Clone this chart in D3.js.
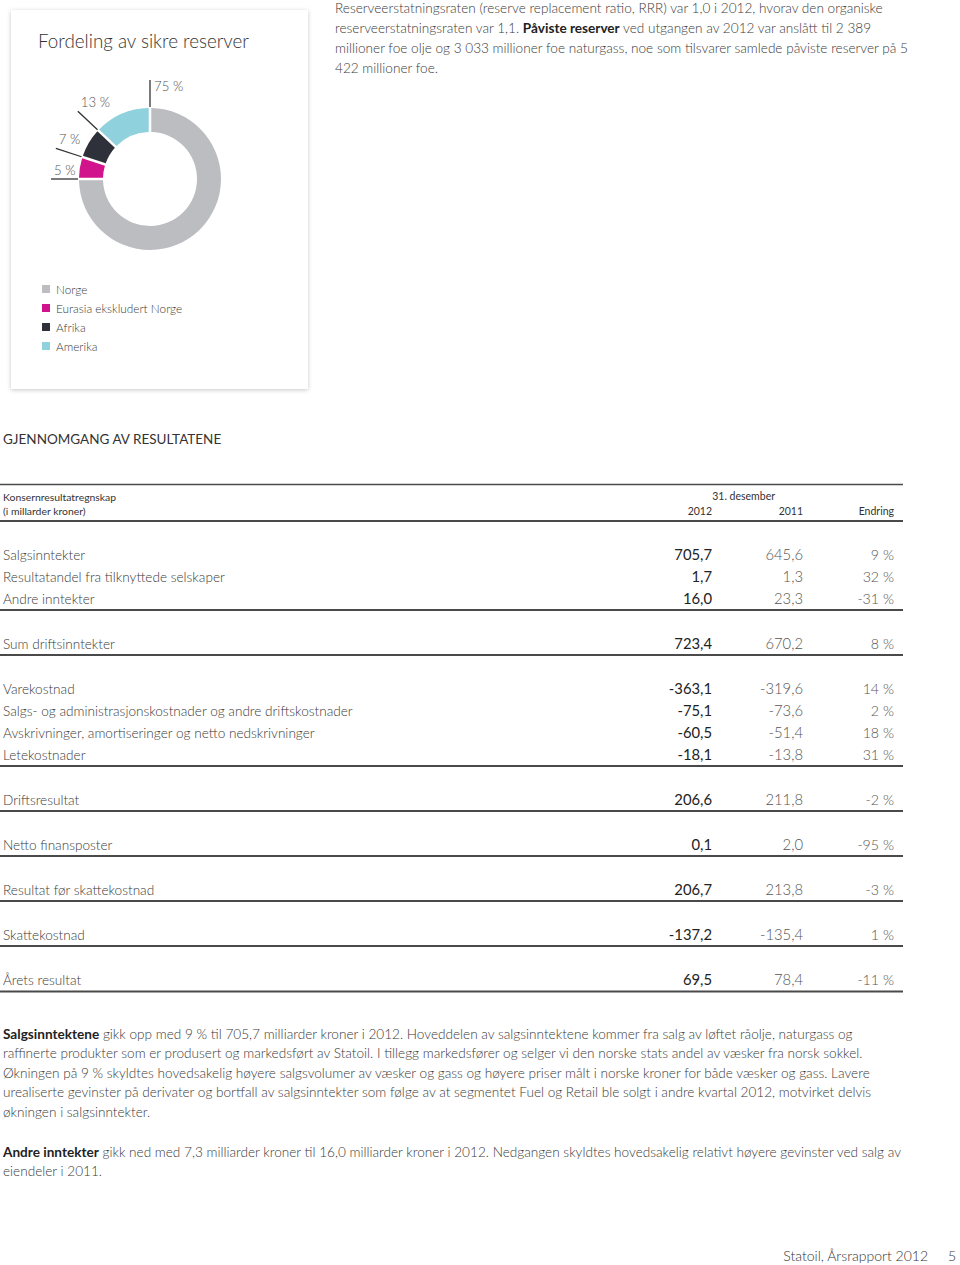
<!DOCTYPE html>
<html><head><meta charset="utf-8">
<script src="https://cdn.jsdelivr.net/npm/d3@7"></script>
<style>
html,body{margin:0;padding:0;background:#fff;}
svg{display:block;font-family:Lato,"Open Sans",sans-serif;}
</style></head><body>
<svg id="chart" width="960" height="1265"></svg>
<script>
// ---------- donut data ----------
const regions = ["Norge", "Eurasia ekskludert Norge", "Afrika", "Amerika"];
const shares = [75, 5, 7, 13];
const regionColors = ["#bcbdc1", "#d1148c", "#2e313a", "#8fd1dd"];
const donutTitle = "Fordeling av sikre reserver";

// ---------- table data ----------
const tableTitle = ["Konsernresultatregnskap", "(i millarder kroner)"];
const periodLabel = "31. desember";
const columnHeaders = ["2012", "2011", "Endring"];
const rowLabels = [
  "Salgsinntekter",
  "Resultatandel fra tilknyttede selskaper",
  "Andre inntekter",
  "Sum driftsinntekter",
  "Varekostnad",
  "Salgs- og administrasjonskostnader og andre driftskostnader",
  "Avskrivninger, amortiseringer og netto nedskrivninger",
  "Letekostnader",
  "Driftsresultat",
  "Netto finansposter",
  "Resultat før skattekostnad",
  "Skattekostnad",
  "Årets resultat"
];
const values2012 = [705.7, 1.7, 16.0, 723.4, -363.1, -75.1, -60.5, -18.1, 206.6, 0.1, 206.7, -137.2, 69.5];
const values2011 = [645.6, 1.3, 23.3, 670.2, -319.6, -73.6, -51.4, -13.8, 211.8, 2.0, 213.8, -135.4, 78.4];
const changes = [9, 32, -31, 8, 14, 2, 18, 31, -2, -95, -3, 1, -11];
const rowGroups = [0, 0, 0, 1, 2, 2, 2, 2, 3, 4, 5, 6, 7];

// ---------- text ----------
const sectionHeading = "GJENNOMGANG AV RESULTATENE";
const topParagraph = [
  [["Reserveerstatningsraten (reserve replacement ratio, RRR) var 1,0 i 2012, hvorav den organiske", false]],
  [["reserveerstatningsraten var 1,1. ", false], ["Påviste reserver", true], [" ved utgangen av 2012 var anslått til 2 389", false]],
  [["millioner foe olje og 3 033 millioner foe naturgass, noe som tilsvarer samlede påviste reserver på 5", false]],
  [["422 millioner foe.", false]]
];
const bottomParagraph1 = [
  [["Salgsinntektene", true], [" gikk opp med 9 % til 705,7 milliarder kroner i 2012. Hoveddelen av salgsinntektene kommer fra salg av løftet råolje, naturgass og", false]],
  [["raffinerte produkter som er produsert og markedsført av Statoil. I tillegg markedsfører og selger vi den norske stats andel av væsker fra norsk sokkel.", false]],
  [["Økningen på 9 % skyldtes hovedsakelig høyere salgsvolumer av væsker og gass og høyere priser målt i norske kroner for både væsker og gass. Lavere", false]],
  [["urealiserte gevinster på derivater og bortfall av salgsinntekter som følge av at segmentet Fuel og Retail ble solgt i andre kvartal 2012, motvirket delvis", false]],
  [["økningen i salgsinntekter.", false]]
];
const bottomParagraph2 = [
  [["Andre inntekter", true], [" gikk ned med 7,3 milliarder kroner til 16,0 milliarder kroner i 2012. Nedgangen skyldtes hovedsakelig relativt høyere gevinster ved salg av", false]],
  [["eiendeler i 2011.", false]]
];
const footerText = "Statoil, Årsrapport 2012";
const pageNumber = "5";

// =====================================================
const svg = d3.select("#chart");
const textColor = "#3a3a3a";

const defs = svg.append("defs");
const f = defs.append("filter").attr("id", "shadow").attr("x", "-10%").attr("y", "-10%").attr("width", "120%").attr("height", "120%");
f.append("feDropShadow").attr("dx", 0).attr("dy", 1).attr("stdDeviation", 2.2).attr("flood-color", "#000").attr("flood-opacity", 0.22);

// card
svg.append("rect").attr("x", 11).attr("y", 10).attr("width", 297).attr("height", 379)
  .attr("fill", "#fff").attr("filter", "url(#shadow)");

svg.append("text").attr("x", 38).attr("y", 47.5).attr("font-size", 18.8).attr("font-weight", 300)
  .attr("fill", "#333").text(donutTitle);

// donut
const cx = 150, cy = 179, rIn = 47, rOut = 71;
const pie = d3.pie().sort(null).value(d => d).startAngle(0).endAngle(2 * Math.PI);
const arcs = pie(shares);
const arc = d3.arc().innerRadius(rIn).outerRadius(rOut).padAngle(0.03);
const g = svg.append("g").attr("transform", `translate(${cx},${cy})`);
g.selectAll("path.slice").data(arcs).join("path").attr("class", "slice")
  .attr("d", arc).attr("fill", (d, i) => regionColors[i]);

const pt = (a, r) => [Math.sin(a) * r, -Math.cos(a) * r];
const leaderIn = 72, leaderOut = 99;
g.selectAll("line.leader").data(arcs).join("line").attr("class", "leader")
  .attr("x1", d => pt(d.startAngle, leaderIn)[0]).attr("y1", d => pt(d.startAngle, leaderIn)[1])
  .attr("x2", d => pt(d.startAngle, leaderOut)[0]).attr("y2", d => pt(d.startAngle, leaderOut)[1])
  .attr("stroke", "#333").attr("stroke-width", 1.3);
g.selectAll("text.pct").data(arcs).join("text").attr("class", "pct")
  .attr("x", d => { const p = pt(d.startAngle, leaderOut); return d.startAngle === 0 ? p[0] + 4 : p[0] + 3; })
  .attr("y", d => { const p = pt(d.startAngle, leaderOut); return d.startAngle === 0 ? p[1] + 10.5 : p[1] - 4.5; })
  .attr("font-size", 13.2).attr("font-weight", 300).attr("fill", "#555")
  .text(d => d.data + " %");

// legend
const legend = svg.append("g");
const legY = d3.scalePoint().domain(regions).range([289, 346]);
legend.selectAll("rect").data(regions).join("rect")
  .attr("x", 42).attr("y", d => legY(d) - 4).attr("width", 8).attr("height", 8)
  .attr("fill", (d, i) => regionColors[i]);
legend.selectAll("text").data(regions).join("text")
  .attr("x", 56).attr("y", d => legY(d) + 4.5).attr("font-size", 11.8).attr("font-weight", 300)
  .attr("fill", textColor).text(d => d);

// paragraph helper
function paragraph(lines, x, y0, lh, size) {
  const t = svg.append("g");
  lines.forEach((segs, i) => {
    const tx = t.append("text").attr("x", x).attr("y", y0 + i * lh).attr("font-size", size)
      .attr("font-weight", 300).attr("fill", textColor);
    segs.forEach(([s, b]) => {
      tx.append("tspan").attr("font-weight", b ? 700 : 300).attr("fill", b ? "#222" : textColor).text(s);
    });
  });
}
paragraph(topParagraph, 335, 12.5, 20, 13.6);

// section heading
svg.append("text").attr("x", 3).attr("y", 444).attr("font-size", 13.5).attr("font-weight", 400)
  .attr("fill", "#333").text(sectionHeading);

// table
const tableLeft = 0, tableRight = 903;
const lineColor = "#4a4a4a";
const colX = d3.scaleOrdinal().domain(columnHeaders).range([712, 803, 894]);
const loc = d3.formatLocale({ decimal: ",", thousands: " ", grouping: [3], currency: ["", ""], minus: "-" });
const fmtVal = loc.format(".1f");
const fmtPct = v => loc.format("d")(v) + " %";

svg.append("line").attr("x1", tableLeft).attr("x2", tableRight).attr("y1", 484.5).attr("y2", 484.5)
  .attr("stroke", lineColor).attr("stroke-width", 1.5);
svg.append("text").attr("x", 3).attr("y", 500.5).attr("font-size", 10.4).attr("font-weight", 400).attr("fill", "#333").text(tableTitle[0]);
svg.append("text").attr("x", 3).attr("y", 514.5).attr("font-size", 10.4).attr("font-weight", 400).attr("fill", "#333").text(tableTitle[1]);
svg.append("text").attr("x", 775).attr("y", 500).attr("text-anchor", "end").attr("font-size", 10.5).attr("font-weight", 400).attr("fill", "#333").text(periodLabel);
svg.selectAll("text.colhead").data(columnHeaders).join("text").attr("class", "colhead")
  .attr("x", d => colX(d)).attr("y", 514.5).attr("text-anchor", "end").attr("font-size", 10.5)
  .attr("font-weight", 400).attr("fill", "#333").text(d => d);
const headerLineY = 521;
svg.append("line").attr("x1", tableLeft).attr("x2", tableRight).attr("y1", headerLineY).attr("y2", headerLineY)
  .attr("stroke", lineColor).attr("stroke-width", 2);

// compute row layout
const rowY = [];
const groupLines = [];
let lastLine = headerLineY, y = 0;
rowLabels.forEach((lab, i) => {
  if (i === 0 || rowGroups[i] !== rowGroups[i - 1]) {
    if (i > 0) { lastLine = y + 6.5; groupLines.push(lastLine); }
    y = lastLine + 38.5;
  } else {
    y += 22;
  }
  rowY.push(y);
});
groupLines.push(y + 7);

const rows = svg.append("g").selectAll("g").data(rowLabels).join("g")
  .attr("transform", (d, i) => `translate(0,${rowY[i]})`);
rows.append("text").attr("x", 3).attr("font-size", 13.6).attr("font-weight", 300).attr("fill", textColor).text(d => d);
rows.append("text").attr("x", colX("2012")).attr("text-anchor", "end").attr("font-size", 14.8).attr("font-weight", 400)
  .attr("fill", "#222").text((d, i) => fmtVal(values2012[i]));
rows.append("text").attr("x", colX("2011")).attr("text-anchor", "end").attr("font-size", 14.8).attr("font-weight", 300)
  .attr("fill", "#555").text((d, i) => fmtVal(values2011[i]));
rows.append("text").attr("x", colX("Endring")).attr("text-anchor", "end").attr("font-size", 14.2).attr("font-weight", 300)
  .attr("fill", "#555").text((d, i) => fmtPct(changes[i]));

svg.selectAll("line.grp").data(groupLines).join("line").attr("class", "grp")
  .attr("x1", tableLeft).attr("x2", tableRight).attr("y1", d => d).attr("y2", d => d)
  .attr("stroke", lineColor).attr("stroke-width", 2);

// bottom paragraphs
paragraph(bottomParagraph1, 3, 1038.5, 19.5, 13.6);
paragraph(bottomParagraph2, 3, 1156.5, 19.5, 13.6);

// footer
svg.append("text").attr("x", 928).attr("y", 1261).attr("text-anchor", "end").attr("font-size", 14)
  .attr("font-weight", 300).attr("fill", "#333").text(footerText);
svg.append("text").attr("x", 956).attr("y", 1261).attr("text-anchor", "end").attr("font-size", 14)
  .attr("font-weight", 300).attr("fill", "#333").text(pageNumber);
</script>
</body></html>
